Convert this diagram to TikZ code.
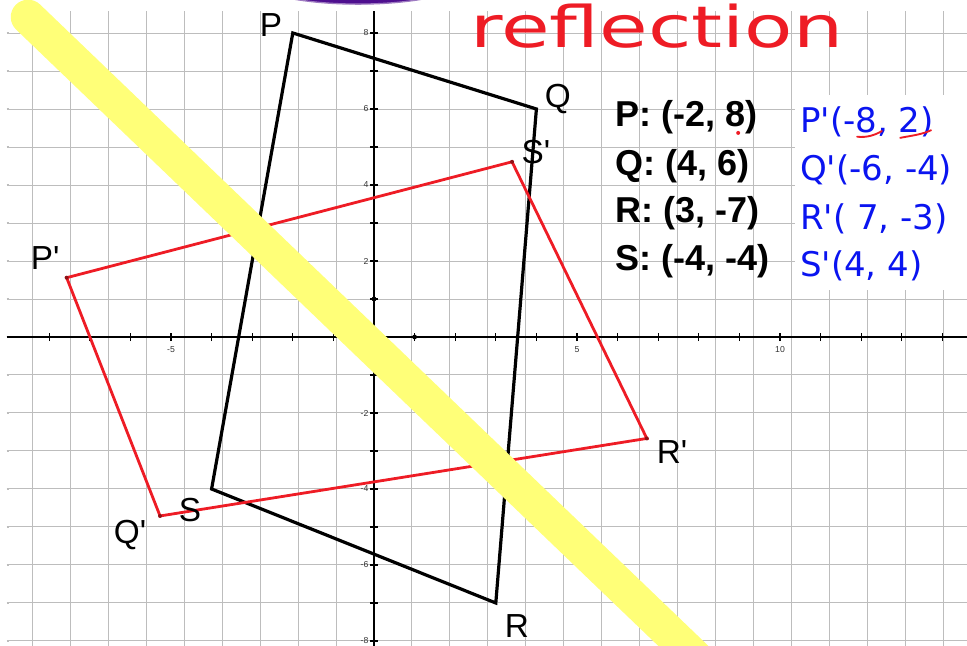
\documentclass[tikz,border=0pt]{standalone}
\usepackage{fontspec}
\usepackage{xcolor}
\newfontfamily\arialfont{Liberation Sans}
\newfontfamily\handfont{DejaVu Sans}
\definecolor{gridgray}{HTML}{BDBDBD}
\definecolor{inkred}{HTML}{EE1C25}
\definecolor{inkblue}{HTML}{0A14F0}
\definecolor{hiyellow}{HTML}{FFFF78}
\definecolor{penpurple}{HTML}{4E0F8F}
\tikzset{
  gridline/.style={draw=gridgray, line width=0.8pt},
  axisline/.style={draw=black, line width=0.8pt},
  ticklabel/.style={font=\arialfont\fontsize{6.5}{6.5}\selectfont, text=black!80, inner sep=1pt},
  origshape/.style={draw=black, line width=2.4pt},
  imgshape/.style={draw=inkred, line width=2.1pt},
  vertlabel/.style={font=\arialfont\fontsize{25}{25}\selectfont, inner sep=0pt},
  coordtext/.style={font=\arialfont\bfseries\fontsize{27}{27}\selectfont, anchor=base west, inner sep=0pt},
  handtext/.style={font=\handfont\fontsize{25.5}{25.5}\selectfont, text=inkblue, anchor=base west, inner sep=0pt},
  highlighter/.style={draw=hiyellow, line width=26pt, line cap=round}
}

\begin{document}
\begin{tikzpicture}[x=30.45pt,y=28.5pt]

  \useasboundingbox (-9.212,-8.132) rectangle (14.606,8.868);
  \clip (-9.212,-8.132) rectangle (14.606,8.868);

  % Grid
  \draw[gridline] (-8.98,-8.3) grid (14.7,8.58);
  \foreach \y in {-8,...,8} \draw[gridline] (-9.05,\y) -- (-8.98,\y);

  % Axes
  \draw[axisline] (-9.05,0) -- (14.7,0);
  \draw[axisline] (0,-8.3) -- (0,8.58);
  \foreach \x in {-8,...,14} \draw[axisline] (\x,-0.11) -- (\x,0.11);
  \foreach \y in {-8,...,8} \draw[axisline] (-0.1,\y) -- (0.1,\y);
  \foreach \x in {-5,5,10} \node[ticklabel] at (\x,-0.34) {\x};
  \foreach \y in {-8,-6,-4,-2,2,4,6,8} \node[ticklabel, anchor=east] at (-0.1,\y) {\y};
  \fill (0,1) circle (1.8pt);
  \fill (1,0) circle (1.8pt);

  % Pen mark and title
  \filldraw[fill=penpurple, draw=penpurple!55!white, line width=1pt]
    (-0.39,9.39) ellipse [x radius=2.59, y radius=0.63];
  \node[anchor=base west, inner sep=0pt, xscale=1.38, text=inkred,
    font=\handfont\fontsize{43}{43}\selectfont] (title) at (2.36,7.61) {reflection};

  % Original figure
  \coordinate (P) at (-2,8);
  \coordinate (Q) at (4,6);
  \coordinate (R) at (3,-7);
  \coordinate (S) at (-4,-4);
  \draw[origshape] (P) -- (Q) -- (R) -- (S) -- cycle;

  % Image figure
  \coordinate (Pi) at (-7.57,1.56);
  \coordinate (Qi) at (-5.27,-4.71);
  \coordinate (Ri) at (6.72,-2.67);
  \coordinate (Si) at (3.40,4.61);
  \draw[imgshape] (Pi) -- (Qi) -- (Ri) -- (Si) -- cycle;
  \foreach \v in {Pi,Qi,Ri,Si} \fill[inkred!60!black] (\v) circle (1.5pt);

  % Vertex labels
  \node[vertlabel] (lblP) at (-2.54,8.21) {P};
  \node[vertlabel] (lblQ) at (4.53,6.26) {Q};
  \node[vertlabel] (lblR) at (3.52,-7.61) {R};
  \node[vertlabel] (lblS) at (-4.53,-4.55) {S};
  \node[vertlabel] (lblPi) at (-8.10,2.08) {P'};
  \node[vertlabel] (lblQi) at (-6.01,-5.21) {Q'};
  \node[vertlabel] (lblRi) at (7.34,-3.03) {R'};
  \node[vertlabel] (lblSi) at (3.99,4.87) {S'};

  % Coordinates of the original
  \node[coordtext] (txtP) at (5.94,5.53) {P: (-2, 8)};
  \node[coordtext] (txtQ) at (5.94,4.26) {Q: (4, 6)};
  \node[coordtext] (txtR) at (5.94,3.00) {R: (3, -7)};
  \node[coordtext] (txtS) at (5.94,1.74) {S: (-4, -4)};
  \fill[inkred] (8.97,5.37) circle (1.5pt);

  % Handwritten image coordinates
  \fill[white] (10.37,1.24) rectangle (14.7,6.37);
  \node[handtext] (txtPi) at (10.49,5.39) {P'(-8, 2)};
  \node[handtext] (txtQi) at (10.49,4.11) {Q'(-6, -4)};
  \node[handtext] (txtRi) at (10.49,2.84) {R'( 7, -3)};
  \node[handtext] (txtSi) at (10.49,1.58) {S'(4, 4)};
  \draw[inkred, line width=1.4pt, line cap=round]
    (11.90,5.27) .. controls (12.15,5.24) and (12.35,5.32) .. (12.51,5.42);
  \draw[inkred, line width=1.4pt, line cap=round]
    (12.96,5.24) .. controls (13.25,5.30) and (13.50,5.33) .. (13.72,5.44);

  % Mirror line
  \draw[highlighter] (-8.52,8.42) -- (7.98,-8.5);

\end{tikzpicture}
\end{document}
